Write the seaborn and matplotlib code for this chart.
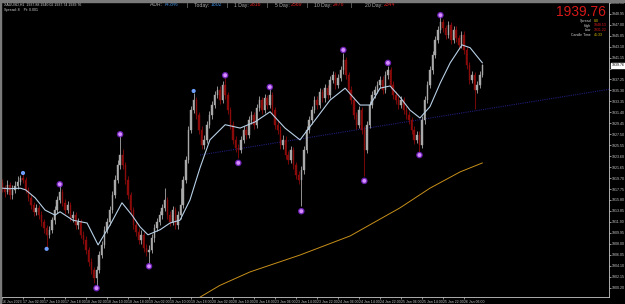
import numpy as np
import pandas as pd
import matplotlib
matplotlib.use("Agg")
import matplotlib.pyplot as plt
import seaborn as sns

# ---------------- data ----------------
first_open = 1918.8
closes = [1917.9,1917.2,1918.5,1916.7,1917.6,1918.3,1919.0,1919.7,
1919.4,
1917.6,1916.2,1914.9,1913.7,1914.4,1913.1,1911.9,
1910.8,1909.6,1910.5,1912.2,
1914.0,1915.8,1917.2,1915.3,
1914.0,1914.9,1912.6,1913.1,
1911.3,1911.9,1909.6,1908.7,
1906.9,1904.8,1903.3,1901.9,
1903.3,
1906.0,1907.8,1910.5,1911.9,
1914.0,1916.7,1919.4,1922.0,
1923.8,1922.0,1919.4,
1916.7,1914.0,1911.3,1910.1,
1908.7,1909.6,1907.3,1906.5,
1906.9,
1909.0,1910.8,1911.9,1913.1,
1914.4,1915.8,1913.1,1911.9,
1914.0,1911.3,1913.1,1914.9,
1919.4,1922.9,1928.3,1931.8,
1933.6,
1930.9,1928.3,1925.6,1926.5,
1929.2,1930.9,1932.7,1934.5,
1935.4,1933.6,1936.3,1934.5,
1931.8,1929.2,1926.5,1925.1,
1924.7,
1926.5,1928.3,1927.4,1930.0,
1930.9,1929.2,1932.2,1933.6,
1931.8,1933.9,1932.7,1934.5,
1931.8,1929.2,1928.3,1925.6,
1926.5,1923.8,1922.9,1924.7,
1922.0,1920.3,1919.4,1921.1,
1924.7,1928.3,1930.0,1931.8,
1933.6,1932.7,1935.0,1933.9,
1935.7,1934.5,1937.2,1938.0,
1936.3,1937.5,1938.9,1940.7,
1938.0,1935.4,1933.6,1930.9,
1929.2,1931.8,1928.3,1924.7,
1929.2,1932.7,1934.5,1935.4,
1936.3,1937.2,1935.4,1938.0,
1938.9,1936.3,1934.5,1933.6,
1932.7,1933.6,1931.8,1930.9,
1930.0,1928.3,1926.5,1927.4,
1925.6,1930.0,
1933.6,1936.3,1938.9,1941.6,
1944.3,1946.1,1947.5,1946.4,
1945.2,1946.9,1944.3,1946.1,
1944.6,1943.4,1945.2,1942.5,
1939.8,1937.2,1938.0,1935.4,
1936.3,1938.0,1939.76]

highs = [1919.6,1918.5,1919.3,1919.0,1918.4,1919.2,1920.0,1920.3,
1920.8,
1919.9,1918.1,1916.8,1915.5,1915.1,1914.9,1913.8,
1912.5,1911.4,1911.2,1912.8,
1914.7,1916.5,1918.4,1917.8,
1916.0,1915.6,1915.4,1913.9,
1913.6,1912.6,1912.4,1910.3,
1909.3,1907.5,1905.4,1903.9,
1904.0,
1906.7,1908.5,1911.2,1912.6,
1914.8,1917.4,1920.2,1923.0,
1927.2,1924.8,1922.6,
1920.0,1917.3,1914.6,1912.0,
1910.8,1910.4,1910.1,1908.0,
1907.7,
1909.7,1911.5,1912.6,1913.9,
1915.1,1918.0,1916.4,1913.8,
1914.7,1914.6,1913.9,1918.0,
1920.1,1923.6,1929.0,1932.6,
1934.8,
1934.2,1931.5,1928.9,1927.3,
1929.9,1931.6,1933.4,1935.2,
1936.1,1936.0,1937.0,1937.6,
1935.1,1932.4,1929.8,1927.2,
1925.8,
1927.2,1929.0,1929.0,1930.7,
1931.6,1931.5,1932.9,1934.3,
1934.2,1934.6,1934.5,1935.6,
1935.1,1932.4,1929.9,1928.9,
1927.3,1927.1,1924.5,1925.4,
1925.3,1922.6,1921.0,1921.8,
1925.4,1929.0,1930.7,1932.5,
1934.3,1934.3,1935.7,1935.6,
1936.4,1936.3,1937.9,1938.8,
1938.6,1938.3,1939.6,1941.9,
1941.3,1938.6,1936.1,1934.2,
1931.5,1932.5,1932.4,1928.9,
1929.9,1933.4,1935.2,1936.1,
1937.0,1937.9,1937.8,1938.7,
1939.7,1939.5,1936.9,1935.2,
1934.3,1934.3,1934.2,1932.5,
1931.6,1930.6,1928.9,1928.1,
1928.0,1930.7,
1934.3,1937.0,1939.6,1942.3,
1945.0,1946.8,1948.5,1948.1,
1947.0,1947.6,1947.5,1946.8,
1946.7,1945.2,1945.9,1945.8,
1943.1,1940.4,1938.8,1938.6,
1937.0,1938.7,1940.02]

lows = [1917.2,1916.4,1916.8,1915.9,1916.0,1917.0,1917.8,1918.4,
1918.9,
1917.0,1915.6,1914.2,1913.0,1913.1,1912.4,1911.2,
1910.0,1907.4,1909.0,1910.0,
1911.6,1913.5,1915.2,1914.7,
1913.3,1913.4,1912.0,1911.8,
1910.6,1910.7,1909.0,1908.0,
1906.2,1904.1,1902.6,1901.0,
1900.3,
1902.8,1905.4,1907.2,1909.9,
1911.3,1913.4,1916.1,1918.8,
1921.3,1921.4,1918.7,
1916.0,1913.3,1910.6,1909.4,
1908.0,1908.0,1906.6,1905.8,
1904.5,
1906.3,1908.4,1910.2,1911.3,
1912.5,1913.8,1912.5,1911.2,
1911.3,1910.6,1910.7,1912.5,
1914.3,1918.8,1922.3,1927.7,
1931.2,
1930.2,1927.6,1924.9,1924.9,
1925.9,1928.6,1930.3,1932.1,
1933.9,1932.9,1933.0,1933.8,
1931.1,1928.5,1925.8,1924.4,
1923.3,
1924.1,1925.9,1926.7,1926.8,
1929.4,1928.5,1928.6,1931.6,
1931.1,1931.2,1932.0,1932.1,
1931.1,1928.5,1927.6,1924.9,
1924.9,1923.1,1922.2,1922.3,
1921.3,1919.6,1918.7,1914.8,
1920.5,1924.1,1927.7,1929.4,
1931.2,1932.0,1932.1,1933.2,
1933.3,1933.8,1933.9,1936.6,
1935.6,1935.7,1936.9,1938.3,
1937.3,1934.7,1932.9,1930.2,
1928.5,1928.6,1927.6,1920.0,
1924.1,1928.6,1932.1,1933.9,
1934.8,1935.7,1934.7,1934.8,
1937.4,1935.6,1933.8,1932.9,
1932.0,1932.1,1931.1,1930.2,
1929.3,1927.6,1925.8,1925.9,
1924.3,1925.0,
1929.4,1933.0,1935.7,1938.3,
1941.0,1943.7,1945.5,1945.7,
1944.5,1944.6,1943.6,1943.7,
1943.9,1942.7,1942.8,1941.8,
1939.1,1936.5,1936.6,1932.0,
1934.8,1935.7,1937.74]

# short moving average (light line), read at bar positions
ma_bar = [0, 3, 7, 9, 12.6, 16.4, 20.2, 22.1, 27, 32.4, 36.6, 41.1, 45.7, 49.5, 52.6,
          55.6, 60.2, 64, 67.8, 71.6, 75.4, 79.2, 85, 90.7, 96.4, 102.1, 107.8, 113.5,
          119.2, 125, 130.7, 136.4, 140.2, 144, 147.8, 151.6, 155.4, 159.2, 163, 166.9,
          170.7, 175.2, 178.3, 182.1, 183]
ma_val = [1917.9, 1917.8, 1917.9, 1917.6, 1916.2, 1914.0, 1913.1, 1913.7, 1912.2, 1911.7,
          1907.8, 1911.3, 1915.3, 1913.1, 1911.0, 1909.6, 1910.5, 1911.7, 1912.2, 1915.8,
          1921.5, 1926.5, 1929.2, 1928.6, 1929.7, 1931.5, 1928.6, 1926.5, 1930.0, 1933.6,
          1935.7, 1932.7, 1932.7, 1935.7, 1936.1, 1934.1, 1931.8, 1930.4, 1932.4, 1936.6,
          1940.2, 1943.4, 1942.9, 1940.7, 1940.2]

# long moving average (orange line)
lma_bar = [75.4, 83.0, 94.5, 113.5, 132.6, 151.6, 163.0, 174.5, 183.0]
lma_val = [1898.5, 1900.6, 1903.0, 1906.0, 1909.4, 1914.4, 1917.9, 1920.8, 1922.4]

# trend line (dark blue, dotted)
trend_bar = [75.4, 231.2]
trend_val = [1923.8, 1935.5]

# fractal markers
dot_bar = [8, 17, 22, 36, 45, 56, 73, 85, 90, 102, 114, 130, 138, 147, 159, 167]
dot_val = [1920.6, 1907.1, 1918.6, 1900.1, 1927.5, 1904.0, 1935.2, 1938.0, 1922.4,
           1935.9, 1913.8, 1942.5, 1919.2, 1940.2, 1923.8, 1948.7]
dot_kind = ["blue", "blue", "violet", "violet", "violet", "violet", "blue", "violet",
            "violet", "violet", "violet", "violet", "violet", "violet", "violet", "violet"]

xtick_bars = list(range(0, 177, 8))
xtick_labels = ["16 Jan 2023", "17 Jan 02:00", "17 Jan 10:00", "17 Jan 18:00", "18 Jan 02:00",
                "18 Jan 10:00", "18 Jan 18:00", "19 Jan 02:00", "19 Jan 10:00", "19 Jan 18:00",
                "20 Jan 02:00", "20 Jan 10:00", "20 Jan 18:00", "23 Jan 06:00", "23 Jan 14:00",
                "23 Jan 22:00", "24 Jan 06:00", "24 Jan 14:00", "24 Jan 22:00", "25 Jan 06:00",
                "25 Jan 14:00", "25 Jan 22:00", "26 Jan 06:00"]
ytick_vals = [1950.90, 1948.95, 1947.00, 1945.05, 1943.10, 1941.15, 1939.20, 1937.25,
              1935.30, 1933.35, 1931.40, 1929.45, 1927.50, 1925.55, 1923.60, 1921.65,
              1919.70, 1917.75, 1915.80, 1913.85, 1911.90, 1909.95, 1908.00, 1906.05,
              1904.10, 1902.15, 1900.20]
current_price = 1939.76

adr_groups = [("ADR: ", "74.8%", "blue"), ("Today: ", "1802", "blue"),
              ("1 Day: ", "2816", "red"), ("5 Day: ", "2569", "red"),
              ("10 Day: ", "2476", "red"), ("20 Day: ", "2344", "red")]
info_rows = [("Spread", "8.0", "yellow"), ("High", "1948.53", "red"),
             ("Low", "1931.22", "red"), ("Candle Time", "45:33", "yellow")]

n = min(len(closes), len(highs), len(lows))
closes, highs, lows = closes[:n], highs[:n], lows[:n]
opens = [first_open] + closes[:-1]
df = pd.DataFrame({"bar": np.arange(n), "open": opens, "close": closes,
                   "high": highs, "low": lows})

# ---------------- figure ----------------
sns.set_style("dark")
plt.rcParams["font.family"] = ["Liberation Sans", "DejaVu Sans"]
W, H = 625, 304
fig = plt.figure(figsize=(6.25, 3.04), dpi=100, facecolor="black")

def fx(x):
    return x / W

def fy(y):
    return 1 - y / H

ax = fig.add_axes([fx(1), fy(297), fx(609) - fx(1), fy(2) - fy(297)])
ax.set_facecolor("black")

bull = df["close"] >= df["open"]
bull_col, bear_col = "#a9a9a9", "#8b0a0a"
cols = np.where(bull, bull_col, bear_col)
ax.vlines(df["bar"], df["low"], df["high"], colors=cols, linewidth=0.6, zorder=2)
body_lo = np.minimum(df["open"], df["close"])
body_h = np.maximum(np.abs(df["close"] - df["open"]), 0.15)
ax.bar(df["bar"], body_h, bottom=body_lo, width=0.55, color=cols, edgecolor=cols,
       linewidth=0.3, zorder=3)

sns.lineplot(x=trend_bar, y=trend_val, ax=ax, color="#1e1e78", linewidth=0.8,
             linestyle=(0, (1, 1)), zorder=1)
sns.lineplot(x=lma_bar, y=lma_val, ax=ax, color="#c8901a", linewidth=0.7, zorder=4)
sns.lineplot(x=ma_bar, y=ma_val, ax=ax, color="#b8d0e6", linewidth=0.8, zorder=4)

dots = pd.DataFrame({"bar": dot_bar, "val": dot_val, "kind": dot_kind})
v = dots[dots.kind == "violet"]
b = dots[dots.kind == "blue"]
sns.scatterplot(data=v, x="bar", y="val", ax=ax, s=22, color="#8a2be2", edgecolor="none",
                alpha=0.8, zorder=5)
sns.scatterplot(data=v, x="bar", y="val", ax=ax, s=8, color="#d58cff", edgecolor="none",
                zorder=6)
sns.scatterplot(data=b, x="bar", y="val", ax=ax, s=9, color="#6f9fff", edgecolor="none",
                zorder=6)

ax.set_xlim(-0.38, 231.2)
ax.set_ylim(1898.53, 1951.04)
ax.set_xlabel("")
ax.set_ylabel("")
ax.grid(False)
for s in ["left", "top"]:
    ax.spines[s].set_visible(False)
for s in ["right", "bottom"]:
    ax.spines[s].set_visible(True)
    ax.spines[s].set_color("#c8c8c8")
    ax.spines[s].set_linewidth(0.6)

ax.yaxis.tick_right()
ax.set_yticks(ytick_vals)
# the label nearest the live price is hidden behind the price tag, as in the terminal
ax.set_yticklabels(["" if abs(t - current_price) < 1.0 else f"{t:.2f}" for t in ytick_vals])
ax.set_xticks(xtick_bars)
ax.set_xticklabels(xtick_labels, ha="left")
ax.tick_params(axis="y", colors="#c8c8c8", labelsize=2.6, length=1.5, width=0.5, pad=0.8,
               right=True, left=False, labelright=True, labelleft=False)
ax.tick_params(axis="x", colors="#c8c8c8", labelsize=2.5, length=1.5, width=0.5, pad=0.8,
               bottom=True)

# current price tag
ax.text(1.004, current_price, f"{current_price:.2f}", transform=ax.get_yaxis_transform(),
        fontsize=2.6, color="black", va="center", ha="left",
        bbox=dict(boxstyle="square,pad=0.15", fc="white", ec="white"))

# window borders
fig.patches.append(plt.Rectangle((0, fy(1.5)), 1, 1.5 / H, transform=fig.transFigure,
                                 color="#7a7a7a", zorder=10))
fig.patches.append(plt.Rectangle((0, 0), 1.2 / W, 1, transform=fig.transFigure,
                                 color="#7a7a7a", zorder=10))

# top-left info
fig.text(fx(4), fy(5), "XAUUSD,H1  1937.88 1940.02 1937.74 1939.76", fontsize=2.6,
         color="#d0d0d0", va="center")
fig.text(fx(4), fy(9.5), "Spread: 8    Pt: 0.001", fontsize=2.6, color="#d0d0d0", va="center")

palette = {"grey": "#b0b0b0", "red": "#e01b1b", "blue": "#3f8fe0", "yellow": "#e0c000"}

# ADR bar
renderer = fig.canvas.get_renderer()
group_x = [150, 194, 234, 275, 314, 365]
sep_x = [187, 227, 267, 307, 351]
for gx, (lab, val, c) in zip(group_x, adr_groups):
    t = fig.text(fx(gx), fy(5), lab, fontsize=3.7, color=palette["grey"], va="center",
                 ha="left")
    ext = t.get_window_extent(renderer)
    fig.text(ext.x1 / W, fy(5), val, fontsize=3.7, color=palette[c], va="center", ha="left")
for sx in sep_x:
    fig.text(fx(sx), fy(5), "|", fontsize=3.7, color=palette["grey"], va="center",
             ha="center")

# big price and info panel
fig.text(fx(606), fy(11.5), f"{current_price:.2f}", fontsize=10, color="#d41818",
         va="center", ha="right")
for y, (lab, val, c) in zip([21, 25.5, 30, 34.5], info_rows):
    fig.text(fx(591), fy(y), lab, fontsize=2.5, color="#d0d0d0", va="center", ha="right")
    fig.text(fx(594), fy(y), val, fontsize=2.5, color=palette[c], va="center", ha="left")

fig.savefig("out.png", dpi=100, facecolor="black")
